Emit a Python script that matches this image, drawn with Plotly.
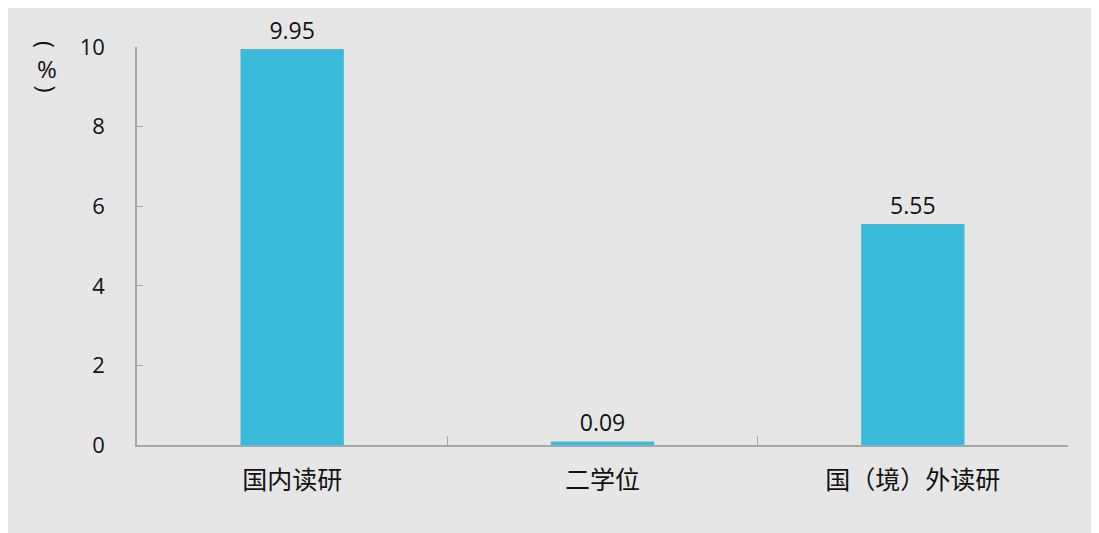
import plotly.graph_objects as go

categories = ["国内读研", "二学位", "国（境）外读研"]
values = [9.95, 0.09, 5.55]
value_labels = ["9.95", "0.09", "5.55"]
y_ticks = [0, 2, 4, 6, 8, 10]

BG = "#e6e6e6"
BAR = "#3bbbdc"
AXIS = "#a6a6a6"
TXT = "#111111"

fig = go.Figure()
fig.add_trace(go.Bar(
    x=categories, y=values, text=value_labels,
    textposition="outside", cliponaxis=False,
    textfont=dict(family="Open Sans, Noto Sans", size=23, color=TXT),
    marker=dict(color=BAR, line=dict(width=0)),
    hoverinfo="skip",
))
fig.update_layout(
    width=1091, height=525,
    margin=dict(l=129, r=31, t=39, b=88),
    paper_bgcolor=BG, plot_bgcolor=BG,
    bargap=0.667, showlegend=False,
    font=dict(family="Noto Sans CJK SC", color=TXT),
)
fig.update_xaxes(
    showline=True, linecolor=AXIS, linewidth=1.5,
    ticks="inside", tickson="boundaries", ticklen=9, tickcolor=AXIS, tickwidth=1.2,
    tickfont=dict(family="Noto Sans CJK SC", size=25, color=TXT),
    ticklabelstandoff=12, showgrid=False, zeroline=False,
)
fig.update_yaxes(
    range=[0, 10], tickvals=y_ticks, ticktext=[str(v) for v in y_ticks],
    showline=True, linecolor=AXIS, linewidth=1.5,
    ticks="inside", ticklen=6, tickcolor=AXIS, tickwidth=1.2,
    tickfont=dict(family="Open Sans, Noto Sans", size=22, color=TXT),
    ticklabelstandoff=26, showgrid=False, zeroline=False,
)
# vertical unit label: arcs made of rotated parentheses, upright %
unit_parts = [("(", 90, 1.005), ("%", 0, 0.947), (")", 90, 0.893)]
for txt, ang, yy in unit_parts:
    fig.add_annotation(
        xref="paper", yref="paper", x=-0.0967, y=yy,
        text=txt, textangle=ang, showarrow=False,
        font=dict(family="Open Sans, Noto Sans", size=24, color=TXT),
        xanchor="center", yanchor="middle",
    )
fig.write_html("out.html")
